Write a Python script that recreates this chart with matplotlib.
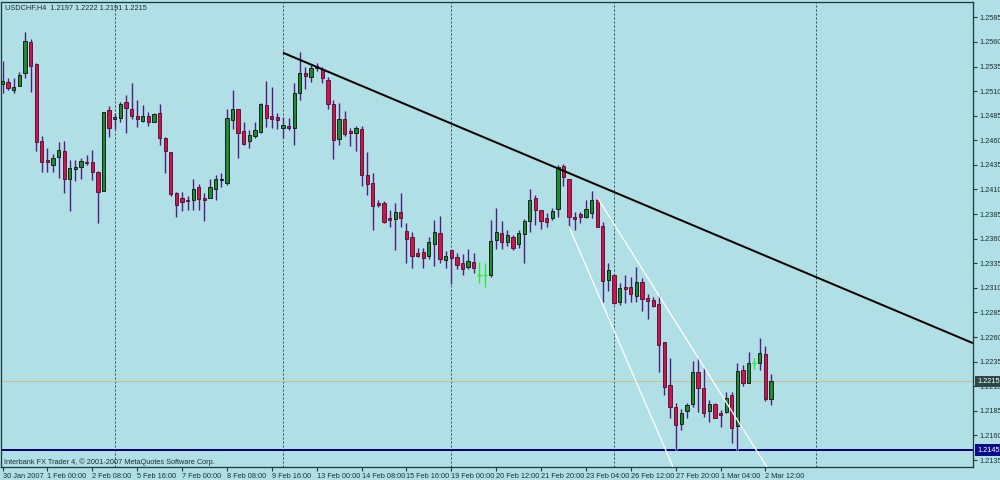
import matplotlib
matplotlib.use('Agg')
import matplotlib.pyplot as plt
import matplotlib.transforms as mtransforms

# ---------------- data (USDCHF, H4) ----------------
opens = [1.2517, 1.2519, 1.2511, 1.2515, 1.2528, 1.2560, 1.2538, 1.2459, 1.2440, 1.2435,
         1.2443, 1.2449, 1.2421, 1.2431, 1.2433, 1.2438, 1.2438, 1.2428, 1.2408, 1.2491,
         1.2482, 1.2483, 1.2499, 1.2492, 1.2485, 1.2480, 1.2485, 1.2479, 1.2488, 1.2462,
         1.2448, 1.2406, 1.2401, 1.2399, 1.2399, 1.2413, 1.2401, 1.2401, 1.2411, 1.2420,
         1.2417, 1.2481, 1.2492, 1.2469, 1.2459, 1.2464, 1.2468, 1.2496, 1.2485, 1.2484,
         1.2473, 1.2475, 1.2473, 1.2508, 1.2528, 1.2524, 1.2536, 1.2532, 1.2521, 1.2497,
         1.2461, 1.2482, 1.2469, 1.2467, 1.2472, 1.2425, 1.2417, 1.2396, 1.2396, 1.2381,
         1.2380, 1.2387, 1.2368, 1.2362, 1.2345, 1.2346, 1.2342, 1.2355, 1.2366, 1.2338,
         1.2348, 1.2341, 1.2335, 1.2331, 1.2336, 1.2323, 1.2323, 1.2323, 1.2359, 1.2366,
         1.2357, 1.2362, 1.2355, 1.2365, 1.2378, 1.2401, 1.2389, 1.2381, 1.2381, 1.2390,
         1.2434, 1.2421, 1.2382, 1.2385, 1.2382, 1.2386, 1.2399, 1.2373, 1.2318, 1.2323,
         1.2296, 1.2311, 1.2311, 1.2302, 1.2316, 1.2300, 1.2298, 1.2294, 1.2255, 1.2211,
         1.2189, 1.2172, 1.2185, 1.2192, 1.2224, 1.2208, 1.2185, 1.2192, 1.2183, 1.2184,
         1.2201, 1.2170, 1.2226, 1.2213, 1.2234, 1.2234, 1.2243, 1.2197]
highs = [1.2541, 1.2523, 1.2523, 1.2529, 1.2570, 1.2563, 1.2539, 1.2464, 1.2452, 1.2446,
         1.2458, 1.2459, 1.2440, 1.2440, 1.2442, 1.2445, 1.2450, 1.2429, 1.2489, 1.2495,
         1.2488, 1.2499, 1.2506, 1.2518, 1.2501, 1.2496, 1.2489, 1.2488, 1.2497, 1.2463,
         1.2448, 1.2407, 1.2407, 1.2403, 1.2421, 1.2416, 1.2406, 1.2421, 1.2425, 1.2427,
         1.2492, 1.2511, 1.2492, 1.2479, 1.2470, 1.2479, 1.2498, 1.2520, 1.2514, 1.2488,
         1.2484, 1.2483, 1.2518, 1.2550, 1.2535, 1.2537, 1.2539, 1.2535, 1.2524, 1.2501,
         1.2498, 1.2490, 1.2473, 1.2475, 1.2475, 1.2448, 1.2427, 1.2399, 1.2398, 1.2389,
         1.2396, 1.2406, 1.2376, 1.2367, 1.2351, 1.2351, 1.2362, 1.2379, 1.2383, 1.2347,
         1.2348, 1.2345, 1.2344, 1.2350, 1.2345, 1.2336, 1.2335, 1.2379, 1.2391, 1.2378,
         1.2369, 1.2364, 1.2369, 1.2380, 1.2411, 1.2404, 1.2389, 1.2386, 1.2391, 1.2435,
         1.2436, 1.2421, 1.2387, 1.2387, 1.2399, 1.2408, 1.2402, 1.2377, 1.2335, 1.2323,
         1.2315, 1.2323, 1.2321, 1.2331, 1.2320, 1.2304, 1.2301, 1.2303, 1.2255, 1.2239,
         1.2193, 1.2187, 1.2193, 1.2236, 1.2239, 1.2230, 1.2196, 1.2193, 1.2186, 1.2204,
         1.2204, 1.2234, 1.2232, 1.2245, 1.2239, 1.2259, 1.2251, 1.2222]
lows = [1.2508, 1.2511, 1.2508, 1.2515, 1.2523, 1.2509, 1.2449, 1.2428, 1.2428, 1.2428,
        1.2422, 1.2406, 1.2388, 1.2419, 1.2421, 1.2435, 1.2420, 1.2376, 1.2408, 1.2463,
        1.2471, 1.2479, 1.2467, 1.2482, 1.2474, 1.2479, 1.2475, 1.2479, 1.2455, 1.2427,
        1.2403, 1.2382, 1.2388, 1.2389, 1.2389, 1.2389, 1.2378, 1.2401, 1.2399, 1.2413,
        1.2415, 1.2471, 1.2442, 1.2455, 1.2452, 1.2462, 1.2467, 1.2474, 1.2473, 1.2471,
        1.2462, 1.2470, 1.2455, 1.2501, 1.2512, 1.2519, 1.2530, 1.2518, 1.2492, 1.2441,
        1.2455, 1.2464, 1.2454, 1.2449, 1.2414, 1.2404, 1.2369, 1.2392, 1.2376, 1.2372,
        1.2349, 1.2372, 1.2335, 1.2330, 1.2341, 1.2330, 1.2339, 1.2332, 1.2335, 1.2330,
        1.2314, 1.2329, 1.2323, 1.2329, 1.2325, 1.2315, 1.2311, 1.2321, 1.2350, 1.2350,
        1.2353, 1.2349, 1.2351, 1.2335, 1.2367, 1.2374, 1.2370, 1.2372, 1.2379, 1.2382,
        1.2414, 1.2371, 1.2369, 1.2376, 1.2381, 1.2381, 1.2372, 1.2296, 1.2307, 1.2294,
        1.2293, 1.2295, 1.2296, 1.2296, 1.2286, 1.2278, 1.2291, 1.2224, 1.2201, 1.2178,
        1.2145, 1.2166, 1.2178, 1.2189, 1.2184, 1.2179, 1.2174, 1.2178, 1.2169, 1.2183,
        1.2152, 1.2145, 1.2210, 1.2213, 1.2228, 1.2226, 1.2195, 1.2191]
closes = [1.2520, 1.2513, 1.2514, 1.2526, 1.2561, 1.2536, 1.2458, 1.2438, 1.2438, 1.2442,
          1.2450, 1.2421, 1.2432, 1.2433, 1.2439, 1.2437, 1.2428, 1.2407, 1.2489, 1.2473,
          1.2484, 1.2497, 1.2493, 1.2485, 1.2482, 1.2485, 1.2479, 1.2487, 1.2462, 1.2449,
          1.2405, 1.2394, 1.2397, 1.2398, 1.2411, 1.2400, 1.2399, 1.2413, 1.2421, 1.2421,
          1.2483, 1.2492, 1.2467, 1.2456, 1.2465, 1.2470, 1.2497, 1.2483, 1.2482, 1.2481,
          1.2476, 1.2473, 1.2508, 1.2528, 1.2525, 1.2533, 1.2533, 1.2523, 1.2497, 1.2460,
          1.2482, 1.2466, 1.2467, 1.2473, 1.2425, 1.2416, 1.2393, 1.2394, 1.2377, 1.2379,
          1.2387, 1.2381, 1.2360, 1.2342, 1.2342, 1.2340, 1.2357, 1.2367, 1.2339, 1.2342,
          1.2340, 1.2333, 1.2329, 1.2337, 1.2330, 1.2323, 1.2323, 1.2358, 1.2367, 1.2357,
          1.2364, 1.2351, 1.2366, 1.2378, 1.2399, 1.2389, 1.2378, 1.2377, 1.2388, 1.2433,
          1.2423, 1.2382, 1.2380, 1.2382, 1.2390, 1.2399, 1.2372, 1.2317, 1.2328, 1.2295,
          1.2310, 1.2309, 1.2304, 1.2316, 1.2299, 1.2297, 1.2292, 1.2252, 1.2209, 1.2189,
          1.2171, 1.2183, 1.2191, 1.2224, 1.2208, 1.2183, 1.2192, 1.2178, 1.2181, 1.2198,
          1.2168, 1.2225, 1.2213, 1.2234, 1.2234, 1.2244, 1.2197, 1.2215]

time_label_bars = [0, 8, 16, 24, 32, 40, 48, 56, 64, 72, 80, 88, 96, 104, 112, 120, 128, 136]
time_labels = ['30 Jan 2007', '1 Feb 00:00', '2 Feb 08:00', '5 Feb 16:00', '7 Feb 00:00',
               '8 Feb 08:00', '9 Feb 16:00', '13 Feb 00:00', '14 Feb 08:00', '15 Feb 16:00',
               '19 Feb 00:00', '20 Feb 12:00', '21 Feb 20:00', '23 Feb 04:00', '26 Feb 12:00',
               '27 Feb 20:00', '1 Mar 04:00', '2 Mar 12:00']
price_ticks = [1.2135, 1.2160, 1.2185, 1.2210, 1.2235, 1.2260, 1.2285, 1.2310, 1.2335,
               1.2360, 1.2385, 1.2410, 1.2435, 1.2460, 1.2485, 1.2510, 1.2535, 1.2560, 1.2585]
week_separator_bars = [20, 50, 80, 109, 145]

symbol_title = 'USDCHF,H4  1.2197 1.2222 1.2191 1.2215'
footer = 'Interbank FX Trader 4, \u00a9 2001-2007 MetaQuotes Software Corp.'

current_price = 1.2215
support_price = 1.2145

# trend lines: (bar, price) anchors
trend_black = [(50, 1.2549), (100, 1.2429)]
trend_white_1 = [(101, 1.2372), (118, 1.2148)]
trend_white_2 = [(106, 1.2402), (124, 1.2239)]

# ---------------- styling ----------------
BG = '#B0E0E6'
FRAME = '#1f3b3b'
TXT = '#1c3030'
BULL = '#1d8a36'
BEAR = '#c8174c'
WICK = '#3a2c70'
HALO = '#a8a8d8'
DOJI = '#2ee82e'
FONT = ['Liberation Sans', 'DejaVu Sans']
FS = 5.3

plt.rcParams['font.family'] = FONT

fig = plt.figure(figsize=(10, 4.8), dpi=100, facecolor=BG)
ax = fig.add_axes([1/1000, 13/480, 972/1000, 465/480], facecolor=BG)

n = len(opens)
xs = list(range(n))
px = 72.0 / 100.0  # points per pixel

ax.set_xlim(-0.27, 173.0)
ax.set_ylim(1.21279, 1.26006)

# week separators
for b in week_separator_bars:
    ax.axvline(b, color='#2f4f4f', lw=1.0 * px, ls=(0, (2, 2)), zorder=1)

# horizontal price lines
ax.axhline(current_price, color='#c9bd8a', lw=1.0 * px, zorder=2)
ax.axhline(support_price, color='#000080', lw=2.0 * px, zorder=2)

# candles
doji_x, doji_o, doji_h, doji_l = [], [], [], []
nx, nh, nl = [], [], []
bull_x, bull_b, bull_h = [], [], []
bear_x, bear_b, bear_h = [], [], []
min_h = 0.00009
for i in xs:
    o, h, l, c = opens[i], highs[i], lows[i], closes[i]
    if abs(o - c) < 1e-9:
        doji_x.append(i); doji_o.append(o); doji_h.append(h); doji_l.append(l)
        continue
    nx.append(i); nh.append(h); nl.append(l)
    lo = min(o, c)
    hgt = max(abs(c - o), min_h)
    if c > o:
        bull_x.append(i); bull_b.append(lo); bull_h.append(hgt)
    else:
        bear_x.append(i); bear_b.append(lo); bear_h.append(hgt)

ax.vlines(nx, nl, nh, color=HALO, lw=2.6 * px, zorder=3)
ax.vlines(nx, nl, nh, color=WICK, lw=1.0 * px, zorder=4)
ax.bar(bull_x, bull_h, bottom=bull_b, width=0.58, color=BULL, edgecolor='#0c1a10',
       linewidth=0.9 * px, zorder=5)
ax.bar(bear_x, bear_h, bottom=bear_b, width=0.58, color=BEAR, edgecolor='#5a0c34',
       linewidth=0.9 * px, zorder=5)
ax.vlines(doji_x, doji_l, doji_h, color=DOJI, lw=1.4 * px, zorder=4)
ax.hlines(doji_o, [x - 0.4 for x in doji_x], [x + 0.4 for x in doji_x], color=DOJI,
          lw=1.4 * px, zorder=4)

# trend lines
def ray(anchors, x_end):
    (x0, y0), (x1, y1) = anchors
    s = (y1 - y0) / (x1 - x0)
    return [x0, x_end], [y0, y0 + s * (x_end - x0)]

bx, by = ray(trend_black, 173.0)
ax.plot(bx, by, color='black', lw=2.0 * px, zorder=6, solid_capstyle='butt')
for tl in (trend_white_1, trend_white_2):
    wx, wy = ray(tl, tl[0][0] + 60)
    ax.plot(wx, wy, color='white', lw=1.3 * px, zorder=6)

# axes frame
for sp in ax.spines.values():
    sp.set_color(FRAME)
    sp.set_linewidth(1.3 * px)

ax.yaxis.tick_right()
ax.set_yticks(price_ticks)
ax.set_yticklabels(['%.4f' % p for p in price_ticks])
ax.tick_params(axis='y', length=3, width=0.8, color=FRAME, pad=1.5, labelsize=FS,
               labelcolor=TXT)
ax.set_xticks(time_label_bars)
ax.set_xticklabels(time_labels, ha='left')
ax.tick_params(axis='x', length=3, width=0.8, color=FRAME, pad=1.5, labelsize=FS,
               labelcolor=TXT)
for lab in ax.get_xticklabels():
    lab.set_horizontalalignment('left')

# price label boxes on the right scale
trans = mtransforms.blended_transform_factory(ax.transAxes, ax.transData)
ax.text(1.0 + 4.0/972, current_price, '%.4f' % current_price, transform=trans, ha='left',
        va='center', fontsize=FS, color='white', zorder=10, clip_on=False,
        bbox=dict(boxstyle='square,pad=0.3', fc='#2d4646', ec='none'))
ax.text(1.0 + 4.0/972, support_price, '%.4f' % support_price, transform=trans, ha='left',
        va='center', fontsize=FS, color='white', zorder=10, clip_on=False,
        bbox=dict(boxstyle='square,pad=0.3', fc='#0a0a8a', ec='none'))

ax.text(4/972, 1 - 6/465, symbol_title, transform=ax.transAxes, ha='left', va='center',
        fontsize=FS, color=TXT, zorder=10)
ax.text(3/972, 1 - 460/465, footer, transform=ax.transAxes, ha='left', va='center',
        fontsize=FS, color=TXT, zorder=10)

fig.savefig('out.png', dpi=100, facecolor=BG)
